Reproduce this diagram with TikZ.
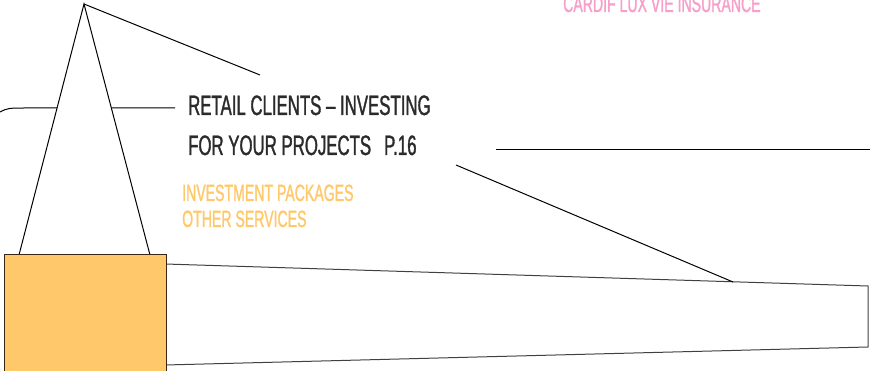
\documentclass[tikz,border=0pt]{standalone}
\usepackage{fontspec}
\setmainfont{Liberation Sans}[FakeStretch=0.6,FakeBold=1.2]
\usetikzlibrary{positioning}

\definecolor{boxorange}{HTML}{FEC86B}
\definecolor{txtorange}{HTML}{FFC86A}
\definecolor{txtpink}{HTML}{F79FC9}
\definecolor{titlegray}{HTML}{2B2B2B}

\begin{document}
\begin{tikzpicture}[x=1pt,y=-1pt]
\useasboundingbox (0,0) rectangle (870,371);
% points
\coordinate (apex) at (84,4);
\coordinate (ray) at (260,75);
\coordinate (legl) at (19,255);
\coordinate (legr) at (150,255);
\coordinate (slant) at (456,165);
\coordinate (meet) at (733,282);
\coordinate (rulel) at (496,150);
\coordinate (ruler) at (870,150);

% left rule behind the triangle
\draw[black,line width=1pt] (0,112) .. controls (8,108) .. (28,108) -- (175,108);
\draw[black,line width=1pt,fill=white] (legl) -- (apex) -- (legr);
\draw[black,line width=1pt] (apex) -- (ray);

% box and panel
\draw[black!75,line width=1pt] (165,264) -- (868,286) -- (868,347) -- (165,365);
\draw[fill=boxorange,draw=black!70!brown,line width=1pt] (4,255) rectangle (166,373);
\draw[black,line width=1pt] (slant) -- (meet);
\draw[black,line width=1pt] (rulel) -- (ruler);

% texts
\node[font=\fontsize{28}{28}\selectfont,text=titlegray,anchor=base west,inner sep=0pt] (title1) at (188,115) {RETAIL CLIENTS – INVESTING};
\node[font=\fontsize{28}{28}\selectfont,text=titlegray,anchor=base west,inner sep=0pt] (title2) at (188,155) {FOR YOUR PROJECTS\hspace{13pt}P.16};
\node[font=\fontsize{23.5}{23.5}\selectfont,text=txtorange,anchor=base west,inner sep=0pt] (pack) at (182,201) {INVESTMENT PACKAGES};
\node[font=\fontsize{23.5}{23.5}\selectfont,text=txtorange,anchor=base west,inner sep=0pt] (serv) at (182,227) {OTHER SERVICES};
\node[font=\fontsize{23.5}{23.5}\selectfont,text=txtpink,anchor=base west,inner sep=0pt] (cardif) at (563,12) {CARDIF LUX VIE INSURANCE};

\end{tikzpicture}
\end{document}
